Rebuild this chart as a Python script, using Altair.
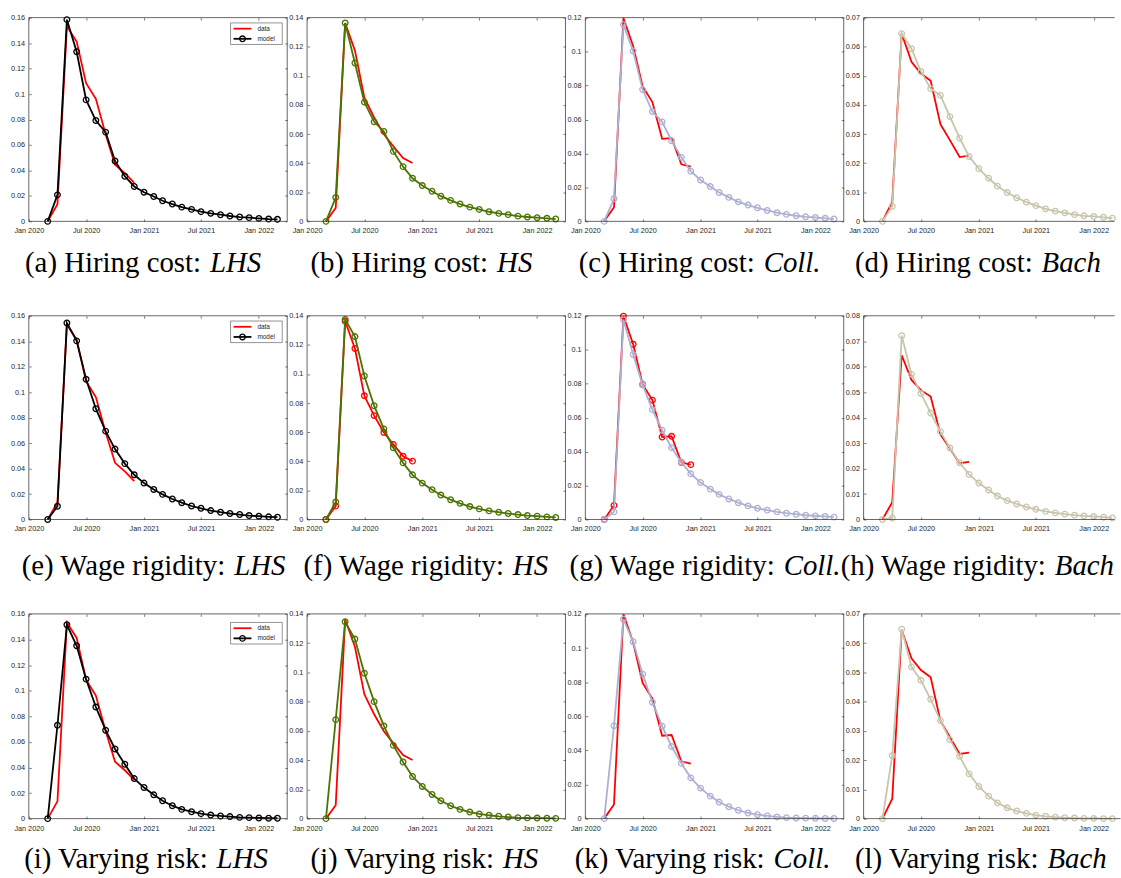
import altair as alt
import pandas as pd

# ---------------- data ----------------
model_months = ["2020-03-01", "2020-04-01", "2020-05-01", "2020-06-01", "2020-07-01",
                "2020-08-01", "2020-09-01", "2020-10-01", "2020-11-01", "2020-12-01",
                "2021-01-01", "2021-02-01", "2021-03-01", "2021-04-01", "2021-05-01",
                "2021-06-01", "2021-07-01", "2021-08-01", "2021-09-01", "2021-10-01",
                "2021-11-01", "2021-12-01", "2022-01-01", "2022-02-01", "2022-03-01"]
data_months = ["2020-03-01", "2020-04-01", "2020-05-01", "2020-06-01", "2020-07-01",
               "2020-08-01", "2020-09-01", "2020-10-01", "2020-11-01", "2020-12-01"]

lhs_data = [0, 0.0135, 0.1532, 0.1412, 0.1085, 0.0962, 0.0685, 0.0445, 0.0378, 0.0302]
hs_data = [0, 0.0092, 0.1362, 0.1175, 0.0850, 0.0714, 0.0598, 0.0516, 0.0435, 0.0401]
coll_data = [0, 0.0083, 0.1198, 0.1032, 0.0795, 0.0703, 0.0486, 0.0490, 0.0336, 0.0323]
bach_data = [0, 0.0068, 0.0645, 0.0548, 0.0508, 0.0483, 0.0334, 0.0279, 0.0221, 0.0226]

a_model = [0, 0.0208, 0.1584, 0.1332, 0.0954, 0.0792, 0.0701, 0.0474, 0.0354, 0.0274, 0.0229, 0.0195, 0.0162,
           0.0136, 0.0112, 0.0094, 0.0076, 0.0063, 0.0052, 0.0042, 0.0034, 0.0029, 0.0023, 0.0018, 0.0016]
b_model = [0, 0.0164, 0.1363, 0.1088, 0.0819, 0.0684, 0.0618, 0.0481, 0.0376, 0.0296, 0.0246, 0.0207, 0.0173,
           0.0144, 0.0119, 0.0098, 0.0082, 0.0066, 0.0055, 0.0046, 0.0036, 0.0030, 0.0025, 0.0021, 0.0016]
c_model = [0, 0.0133, 0.1159, 0.1003, 0.0776, 0.0647, 0.0586, 0.0475, 0.0377, 0.0295, 0.0244, 0.0205, 0.0170,
           0.0141, 0.0115, 0.0096, 0.0080, 0.0064, 0.0051, 0.0041, 0.0033, 0.0027, 0.0023, 0.0018, 0.0014]
d_model = [0, 0.0052, 0.0645, 0.0593, 0.0515, 0.0456, 0.0433, 0.0360, 0.0286, 0.0223, 0.0181, 0.0148, 0.0121,
           0.0099, 0.0081, 0.0066, 0.0054, 0.0043, 0.0035, 0.0029, 0.0023, 0.0019, 0.0017, 0.0014, 0.0011]
e_model = [0, 0.0104, 0.1543, 0.1403, 0.1101, 0.0870, 0.0694, 0.0553, 0.0439, 0.0351, 0.0286, 0.0236, 0.0197,
           0.0161, 0.0132, 0.0106, 0.0088, 0.0070, 0.0057, 0.0047, 0.0039, 0.0031, 0.0026, 0.0021, 0.0018]
f_model = [0, 0.0120, 0.1375, 0.1257, 0.0986, 0.0782, 0.0623, 0.0493, 0.0389, 0.0307, 0.0250, 0.0205, 0.0168,
           0.0136, 0.0111, 0.0089, 0.0073, 0.0059, 0.0050, 0.0041, 0.0034, 0.0027, 0.0023, 0.0018, 0.0014]
g_model = [0, 0.0045, 0.1177, 0.0972, 0.0793, 0.0647, 0.0526, 0.0423, 0.0337, 0.0269, 0.0218, 0.0179, 0.0148,
           0.0121, 0.0099, 0.0080, 0.0066, 0.0055, 0.0045, 0.0037, 0.0031, 0.0025, 0.0021, 0.0018, 0.0014]
h_model = [0, 0.0006, 0.0722, 0.0570, 0.0495, 0.0418, 0.0345, 0.0281, 0.0223, 0.0177, 0.0143, 0.0116, 0.0092,
           0.0074, 0.0061, 0.0049, 0.0040, 0.0032, 0.0026, 0.0021, 0.0017, 0.0014, 0.0012, 0.0009, 0.0006]
i_model = [0, 0.0730, 0.1515, 0.1351, 0.1090, 0.0872, 0.0691, 0.0544, 0.0425, 0.0313, 0.0243, 0.0186, 0.0140,
           0.0101, 0.0072, 0.0054, 0.0039, 0.0028, 0.0021, 0.0016, 0.0010, 0.0008, 0.0005, 0.0003, 0.0003]
j_model = [0, 0.0677, 0.1346, 0.1228, 0.0994, 0.0800, 0.0634, 0.0501, 0.0387, 0.0288, 0.0220, 0.0165, 0.0122,
           0.0088, 0.0063, 0.0045, 0.0032, 0.0023, 0.0016, 0.0011, 0.0007, 0.0005, 0.0004, 0.0003, 0.0002]
k_model = [0, 0.0544, 0.1169, 0.1037, 0.0847, 0.0682, 0.0542, 0.0423, 0.0324, 0.0239, 0.0179, 0.0132, 0.0097,
           0.0070, 0.0049, 0.0033, 0.0023, 0.0016, 0.0010, 0.0006, 0.0004, 0.0003, 0.0002, 0.0001, 0.0001]
l_model = [0, 0.0216, 0.0648, 0.0519, 0.0473, 0.0408, 0.0335, 0.0270, 0.0213, 0.0153, 0.0110, 0.0077, 0.0054,
           0.0037, 0.0026, 0.0018, 0.0012, 0.0008, 0.0005, 0.0003, 0.0002, 0.0001, 0.0001, 0.0000, 0.0000]

yt_16 = [0, 0.02, 0.04, 0.06, 0.08, 0.1, 0.12, 0.14, 0.16]
yt_14 = [0, 0.02, 0.04, 0.06, 0.08, 0.1, 0.12, 0.14]
yt_12 = [0, 0.02, 0.04, 0.06, 0.08, 0.1, 0.12]
yt_07 = [0, 0.01, 0.02, 0.03, 0.04, 0.05, 0.06, 0.07]
yt_08 = [0, 0.01, 0.02, 0.03, 0.04, 0.05, 0.06, 0.07, 0.08]

xtick_labels = ["Jan 2020", "Jul 2020", "Jan 2021", "Jul 2021", "Jan 2022"]
xtick_ym = [(2020, 1), (2020, 7), (2021, 1), (2021, 7), (2022, 1)]

legend_labels = ["data", "model"]

# ---------------- styling ----------------
RED = "#FF0000"
BLACK = "#000000"
OLIVE = "#4B7300"
LAV = "#AEB0D2"
BEIGE = "#C8C5AC"
AXC = "#262626"
TICK = 2.5
AXFONT = "Liberation Sans"
CAPFONT = "Liberation Serif"
CAPSIZE = 29
CAPGAP = 9
LW = 1.8
MSIZE = 32

# Times-metric glyph widths (per 1000 em) used to place the two caption parts
_ROMAN = {" ": 250, "(": 333, ")": 333, ":": 278, ".": 250, "a": 444, "b": 500, "c": 444, "d": 500,
          "e": 444, "f": 333, "g": 500, "h": 500, "i": 278, "j": 278, "k": 500, "l": 278, "n": 500,
          "o": 500, "r": 333, "s": 389, "t": 278, "y": 500, "W": 944, "H": 722, "V": 722}
_ITAL = {"L": 556, "H": 722, "S": 500, "C": 667, "o": 500, "l": 278, ".": 250, "B": 611, "a": 500,
         "c": 444, "h": 500}


def tw(s, table):
    return sum(table.get(ch, 500) for ch in s) * CAPSIZE / 1000.0


XTICKS = [alt.DateTime(year=y, month=m, date=1) for y, m in xtick_ym]
X_START = alt.DateTime(year=2020, month=1, date=1)

one = pd.DataFrame({"k": [0]})


def make_panel(model_vals, data_vals, yticks, color, data_markers, cap_main, cap_ital,
               cap_center, cap_base, W, H, x_end, legend, last, legend_top, right_limit):
    dm = pd.DataFrame({"date": pd.to_datetime(model_months), "v": model_vals})
    dd = pd.DataFrame({"date": pd.to_datetime(data_months), "v": data_vals})
    xs = alt.Scale(domain=[X_START, x_end], nice=False)
    ys = alt.Scale(domain=[yticks[0], yticks[-1]], nice=False)
    common = dict(tickColor=AXC, tickWidth=0.6, tickSize=TICK, offset=-TICK, domain=False,
                  grid=False, title=None)
    labs = dict(labelFont=AXFONT, labelFontSize=7.3, labelColor=AXC, labelOverlap=False,
                labelFlush=False)
    x_main = alt.X("date:T", scale=xs, axis=alt.Axis(orient="bottom", values=XTICKS, format="%b %Y",
                                                     labelPadding=5.5, **labs, **common))
    y_main = alt.Y("v:Q", scale=ys, axis=alt.Axis(orient="left", values=yticks, format=".2~g",
                                                  labelPadding=4.2, **labs, **common))
    x_mir = alt.X("date:T", scale=xs, axis=alt.Axis(orient="top", values=XTICKS, labels=False, **common))
    if last:
        y_mir = alt.Y("v:Q", scale=ys, axis=None)
    else:
        y_mir = alt.Y("v:Q", scale=ys, axis=alt.Axis(orient="right", values=yticks, labels=False, **common))
    x_n = alt.X("date:T", scale=xs, axis=None)
    y_n = alt.Y("v:Q", scale=ys, axis=None)

    layers = []
    layers.append(alt.Chart(dd).mark_line(color=RED, strokeWidth=LW).encode(x=x_main, y=y_main))
    if data_markers:
        layers.append(alt.Chart(dd).mark_point(shape="circle", filled=False, size=MSIZE, strokeWidth=1.3,
                                               color=RED, opacity=1).encode(x=x_n, y=y_n))
    layers.append(alt.Chart(dm).mark_line(color=color, strokeWidth=LW).encode(x=x_mir, y=y_mir))
    layers.append(alt.Chart(dm).mark_point(shape="circle", filled=False, size=MSIZE, strokeWidth=1.3,
                                           color=color, opacity=1).encode(x=x_n, y=y_n))
    # frame
    if not last:
        layers.append(alt.Chart(one).mark_rect(filled=False, color=AXC, strokeWidth=0.7).encode(
            x=alt.value(0), x2=alt.value(W), y=alt.value(0), y2=alt.value(H)))
    else:
        layers.append(alt.Chart(one).mark_rule(color=AXC, strokeWidth=0.7).encode(
            x=alt.value(0), x2=alt.value(W), y=alt.value(0)))
        layers.append(alt.Chart(one).mark_rule(color=AXC, strokeWidth=0.7).encode(
            x=alt.value(0), x2=alt.value(W), y=alt.value(H)))
        layers.append(alt.Chart(one).mark_rule(color=AXC, strokeWidth=0.7).encode(
            x=alt.value(0), y=alt.value(0), y2=alt.value(H)))
    # legend
    if legend:
        t = legend_top
        layers.append(alt.Chart(one).mark_rect(color="white", stroke=AXC, strokeWidth=0.5).encode(
            x=alt.value(203), x2=alt.value(255), y=alt.value(t), y2=alt.value(t + 21.7)))
        layers.append(alt.Chart(one).mark_rule(color=RED, strokeWidth=LW).encode(
            x=alt.value(206), x2=alt.value(224), y=alt.value(t + 5.8)))
        layers.append(alt.Chart(one).mark_rule(color=BLACK, strokeWidth=LW).encode(
            x=alt.value(206), x2=alt.value(224), y=alt.value(t + 16)))
        layers.append(alt.Chart(one).mark_point(shape="circle", filled=False, size=MSIZE, strokeWidth=1.3,
                                                color=BLACK, opacity=1).encode(
            x=alt.value(215), y=alt.value(t + 16)))
        layers.append(alt.Chart(one).mark_text(align="left", baseline="middle", font=AXFONT, fontSize=6.5,
                                               color=AXC).encode(
            x=alt.value(230), y=alt.value(t + 5.8), text=alt.value(legend_labels[0])))
        layers.append(alt.Chart(one).mark_text(align="left", baseline="middle", font=AXFONT, fontSize=6.5,
                                               color=AXC).encode(
            x=alt.value(230), y=alt.value(t + 16), text=alt.value(legend_labels[1])))
    # caption: upright part + italic part, centred together
    wn = tw(cap_main, _ROMAN)
    wi = tw(cap_ital, _ITAL)
    total = wn + CAPGAP + wi
    start = cap_center - total / 2
    if start + total > right_limit:
        start = right_limit - total
    split = start + wn
    layers.append(alt.Chart(one).mark_text(align="right", baseline="alphabetic", font=CAPFONT,
                                           fontSize=CAPSIZE, color="black").encode(
        x=alt.value(split), y=alt.value(H + cap_base), text=alt.value(cap_main)))
    layers.append(alt.Chart(one).mark_text(align="left", baseline="alphabetic", font=CAPFONT,
                                           fontSize=CAPSIZE, fontStyle="italic", color="black").encode(
        x=alt.value(split + CAPGAP), y=alt.value(H + cap_base), text=alt.value(cap_ital)))
    return alt.layer(*layers).resolve_axis(x="independent", y="independent").properties(width=W, height=H)


def spacer(w, h, anchor_y):
    return alt.Chart(one).mark_rule(color="white", strokeWidth=0.01).encode(
        x=alt.value(0), x2=alt.value(0.5), y=alt.value(anchor_y)).properties(width=w, height=h)


W = 260
END_FULL = alt.DateTime(year=2022, month=4, date=1)
END_12 = alt.DateTime(year=2022, month=3, date=8)
END_3 = alt.DateTime(year=2022, month=3, date=27)

row_specs = [
    dict(H=205, cap_base=51.3, sp_w=8, anchor=-14.7, last_w=252.5, last_end=END_12, leg_top=5.3,
         panels=[("(a) Hiring cost:", "LHS", a_model, lhs_data, yt_16, BLACK, False, 115),
                 ("(b) Hiring cost:", "HS", b_model, hs_data, yt_14, OLIVE, False, 115),
                 ("(c) Hiring cost:", "Coll.", c_model, coll_data, yt_12, LAV, False, 115),
                 ("(d) Hiring cost:", "Bach", d_model, bach_data, yt_07, BEIGE, False, 115)]),
    dict(H=205, cap_base=56.3, sp_w=8, anchor=0, last_w=252.5, last_end=END_12, leg_top=5.3,
         panels=[("(e) Wage rigidity:", "LHS", e_model, lhs_data, yt_16, BLACK, False, 124),
                 ("(f) Wage rigidity:", "HS", f_model, hs_data, yt_14, OLIVE, True, 118),
                 ("(g) Wage rigidity:", "Coll.", g_model, coll_data, yt_12, LAV, True, 119),
                 ("(h) Wage rigidity:", "Bach", h_model, bach_data, yt_08, BEIGE, False, 126)]),
    dict(H=206, cap_base=49.3, sp_w=2.3, anchor=0, last_w=258.5, last_end=END_3, leg_top=8.6,
         panels=[("(i) Varying risk:", "LHS", i_model, lhs_data, yt_16, BLACK, False, 116),
                 ("(j) Varying risk:", "HS", j_model, hs_data, yt_14, OLIVE, False, 116),
                 ("(k) Varying risk:", "Coll.", k_model, coll_data, yt_12, LAV, False, 116),
                 ("(l) Varying risk:", "Bach", l_model, bach_data, yt_07, BEIGE, False, 116)]),
]

cells = []
for r in row_specs:
    cells.append(spacer(r["sp_w"], r["H"], r["anchor"]))
    for ci, (cm, cit, mv, dv, yt, colr, dmk, cc) in enumerate(r["panels"]):
        last = ci == 3
        w_here = r["last_w"] if last else W
        cells.append(make_panel(mv, dv, yt, colr, dmk, cm, cit, cc, r["cap_base"],
                                w_here, r["H"],
                                r["last_end"] if last else END_FULL,
                                ci == 0, last, r["leg_top"],
                                (w_here - 0.5) if last else 1000))

chart = alt.concat(*cells, columns=5, spacing=alt.RowColnumber(row=95, column=20),
                   bounds="flush", align="none").configure_view(strokeWidth=0).properties(padding=0)

chart.save("out.html", embed_options={"renderer": "svg", "actions": False})
